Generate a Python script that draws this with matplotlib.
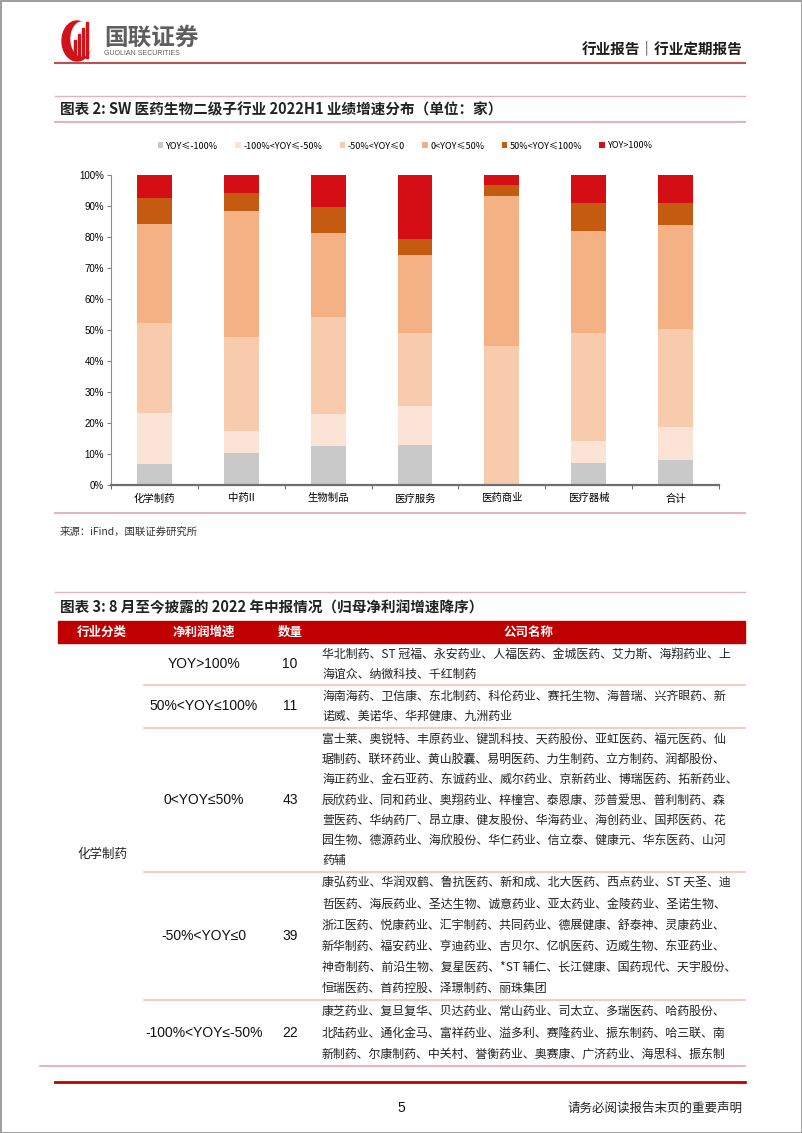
import matplotlib
matplotlib.use('Agg')
import matplotlib.pyplot as plt
from matplotlib.patches import Rectangle, Ellipse

plt.rcParams['font.family'] = ['Noto Sans CJK SC', 'DejaVu Sans']

# chart data (share of companies, %)
categories = ['化学制药', '中药II', '生物制品', '医疗服务', '医药商业', '医疗器械', '合计']
series_labels = ['YOY≤-100%', '-100%<YOY≤-50%', '-50%<YOY≤0', '0<YOY≤50%', '50%<YOY≤100%', 'YOY>100%']
yoy_le_m100 = [6.8, 10.2, 12.6, 12.8, 0.0, 7.0, 8.1]
yoy_m100_m50 = [16.3, 7.3, 10.3, 12.8, 0.0, 7.2, 10.6]
yoy_m50_0 = [29.1, 30.4, 31.3, 23.3, 45.0, 34.9, 31.6]
yoy_0_50 = [32.1, 40.6, 27.1, 25.4, 48.1, 32.9, 33.5]
yoy_50_100 = [8.3, 5.8, 8.3, 5.1, 3.6, 9.0, 7.3]
yoy_gt100 = [7.4, 5.7, 10.4, 20.6, 3.3, 9.0, 8.9]
colors = ['#C9C9C9', '#FBE4D6', '#F8CBAD', '#F4B183', '#C55A11', '#D40E14']

# table data
table_sector = '化学制药'
table_ranges = ['YOY>100%', '50%<YOY≤100%', '0<YOY≤50%', '-50%<YOY≤0', '-100%<YOY≤-50%']
table_counts = [10, 11, 43, 39, 22]
table_names = [
    ['华北制药、ST 冠福、永安药业、人福医药、金城医药、艾力斯、海翔药业、上',
     '海谊众、纳微科技、千红制药'],
    ['海南海药、卫信康、东北制药、科伦药业、赛托生物、海普瑞、兴齐眼药、新',
     '诺威、美诺华、华邦健康、九洲药业'],
    ['富士莱、奥锐特、丰原药业、键凯科技、天药股份、亚虹医药、福元医药、仙',
     '琚制药、联环药业、黄山胶囊、易明医药、力生制药、立方制药、润都股份、',
     '海正药业、金石亚药、东诚药业、威尔药业、京新药业、博瑞医药、拓新药业、',
     '辰欣药业、同和药业、奥翔药业、梓橦宫、泰恩康、莎普爱思、普利制药、森',
     '萱医药、华纳药厂、昂立康、健友股份、华海药业、海创药业、国邦医药、花',
     '园生物、德源药业、海欣股份、华仁药业、信立泰、健康元、华东医药、山河',
     '药辅'],
    ['康弘药业、华润双鹤、鲁抗医药、新和成、北大医药、西点药业、ST 天圣、迪',
     '哲医药、海辰药业、圣达生物、诚意药业、亚太药业、金陵药业、圣诺生物、',
     '浙江医药、悦康药业、汇宇制药、共同药业、德展健康、舒泰神、灵康药业、',
     '新华制药、福安药业、亨迪药业、吉贝尔、亿帆医药、迈威生物、东亚药业、',
     '神奇制药、前沿生物、复星医药、*ST 辅仁、长江健康、国药现代、天宇股份、',
     '恒瑞医药、首药控股、泽璟制药、丽珠集团'],
    ['康芝药业、复旦复华、贝达药业、常山药业、司太立、多瑞医药、哈药股份、',
     '北陆药业、通化金马、富祥药业、溢多利、赛隆药业、振东制药、哈三联、南',
     '新制药、尔康制药、中关村、誉衡药业、奥赛康、广济药业、海思科、振东制'],
]
# row heights of the table in page pixels (layout)
row_heights = [42, 43, 144, 128, 66]

fig = plt.figure(figsize=(8.02, 11.33), dpi=100)
page = fig.add_axes([0, 0, 1, 1])
page.set_xlim(0, 802)
page.set_ylim(1133, 0)
page.axis('off')

# page frame
page.add_patch(Rectangle((0.5, 0.5), 801, 1132, fill=False, edgecolor='#8C8C8C', lw=1.2))

# logo
page.add_patch(Ellipse((77, 41), 30, 40, color='#D0121B'))
page.add_patch(Ellipse((82, 39), 22, 34, color='white'))
for bx, h in [(74, 18), (78, 24), (82, 30), (86, 36)]:
    page.add_patch(Rectangle((bx, 58 - h), 2.2, h, color='#D0121B'))
page.text(104, 38, '国联证券', fontsize=17, fontweight='bold', color='#5E5E5E', va='center', ha='left')
page.text(104, 53.5, 'GUOLIAN SECURITIES', fontsize=5, color='#5E5E5E', va='center', ha='left',
          family='Liberation Sans')
page.text(743, 48, '行业报告｜行业定期报告', fontsize=10.5, fontweight='bold', color='#1A1A1A',
          va='center', ha='right')
page.plot([55, 745], [63, 63], color='#C0504D', lw=1.5)

# figure 2 title
page.plot([55, 745], [96, 96], color='#E3B3BF', lw=1)
page.plot([55, 745], [122, 122], color='#E3B3BF', lw=1.5)
page.text(60, 109, '图表 2: SW 医药生物二级子行业 2022H1 业绩增速分布（单位：家）', fontsize=10.5,
          fontweight='bold', color='#222222', va='center', ha='left')

# chart
ax = fig.add_axes([111 / 802, 1 - 485 / 1133, 608 / 802, 310 / 1133])
all_series = [yoy_le_m100, yoy_m100_m50, yoy_m50_0, yoy_0_50, yoy_50_100, yoy_gt100]
x = list(range(len(categories)))
bottom = [0.0] * len(categories)
for vals, c, lbl in zip(all_series, colors, series_labels):
    ax.bar(x, vals, bottom=bottom, width=0.4, color=c, label=lbl)
    bottom = [b + v for b, v in zip(bottom, vals)]
ax.set_xlim(-0.5, len(categories) - 0.5)
ax.set_ylim(0, 100)
ax.set_yticks(range(0, 101, 10))
ax.set_yticklabels([f'{v}%' for v in range(0, 101, 10)], fontsize=7, family='Liberation Sans')
ax.set_xticks(x)
ax.set_xticklabels(categories, fontsize=7.5)
ax.set_xticks([i - 0.5 for i in range(len(categories) + 1)], minor=True)
ax.tick_params(axis='x', which='major', length=0, pad=6)
ax.tick_params(axis='x', which='minor', length=3, direction='out', color='#555555')
ax.tick_params(axis='y', length=3, direction='out', color='#808080', pad=2)
for s in ['top', 'right']:
    ax.spines[s].set_visible(False)
ax.spines['left'].set_color('#8C8C8C')
ax.spines['left'].set_linewidth(0.8)
ax.spines['bottom'].set_color('#6E6E6E')
ax.spines['bottom'].set_linewidth(1.6)
ax.legend(loc='center', bbox_to_anchor=(0.484, 1.094), ncol=6, frameon=False, fontsize=6.5,
          handlelength=0.6, handleheight=0.6, handletextpad=0.3, columnspacing=1.9)

# source
page.plot([55, 745], [513, 513], color='#E3B3BF', lw=1.5)
page.text(60, 532, '来源：iFind，国联证券研究所', fontsize=7.5, color='#333333', va='center', ha='left')

# figure 3 title
page.plot([55, 745], [592, 592], color='#E3B3BF', lw=1)
page.text(60, 607, '图表 3: 8 月至今披露的 2022 年中报情况（归母净利润增速降序）', fontsize=10.5,
          fontweight='bold', color='#222222', va='center', ha='left')

# table header
page.add_patch(Rectangle((58, 621), 687, 22, color='#C00000'))
for hx, htxt in [(102, '行业分类'), (204, '净利润增速'), (290, '数量'), (529, '公司名称')]:
    page.text(hx, 632, htxt, fontsize=9, fontweight='bold', color='white', va='center', ha='center')

# table body
y = 643
for rng, cnt, names, row_h in zip(table_ranges, table_counts, table_names, row_heights):
    mid = y + row_h / 2
    line_h = (row_h - 2) / len(names)
    page.text(204, mid, rng, fontsize=10, color='#111111', va='center', ha='center', family='Liberation Sans')
    page.text(290, mid, str(cnt), fontsize=10, color='#111111', va='center', ha='center', family='Liberation Sans')
    for k, ln in enumerate(names):
        page.text(322, y + 1 + line_h * (k + 0.5), ln, fontsize=8.6, color='#222222', va='center', ha='left')
    y += row_h
    if rng != table_ranges[-1]:
        page.plot([144, 745], [y, y], color='#F4C4B4', lw=1.2)
page.text(102, (643 + y) / 2, table_sector, fontsize=9, color='#222222', va='center', ha='center')
page.plot([40, 745], [y, y], color='#E8A4AE', lw=1.2)

# footer
page.plot([55, 745], [1082, 1082], color='#C00000', lw=2)
page.text(401, 1108, '5', fontsize=10, color='#111111', va='center', ha='center', family='Liberation Sans')
page.text(743, 1108, '请务必阅读报告末页的重要声明', fontsize=9, color='#222222', va='center', ha='right')

fig.savefig('out.png', dpi=100)
